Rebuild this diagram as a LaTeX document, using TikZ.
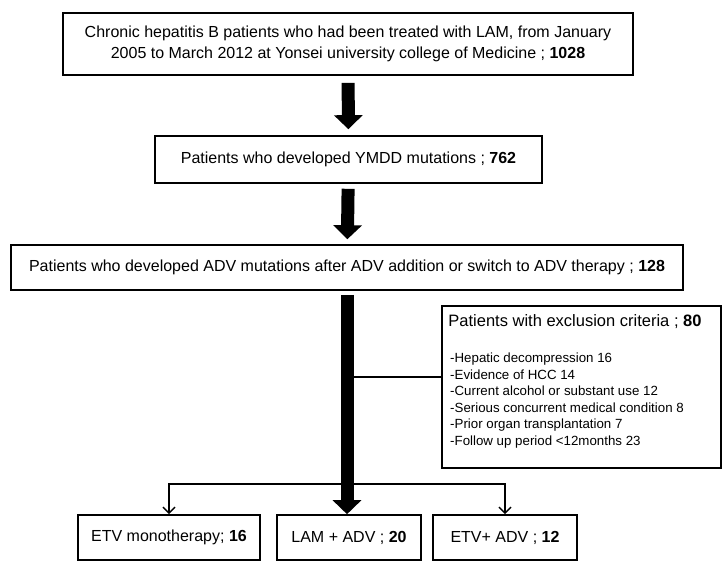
\documentclass[tikz,border=0pt]{standalone}
\usepackage{fontspec}
\setmainfont{Liberation Sans}
\usetikzlibrary{arrows.meta}
\usetikzlibrary{calc}

\begin{document}
\begin{tikzpicture}[x=1pt,y=-1pt,
        box/.style={draw,line width=1.6pt,inner sep=0pt,align=center,
            font=\fontsize{16}{21}\selectfont},
        fatarrow/.style={line width=13pt,-{Triangle[length=14pt,width=28pt]}},
        thinline/.style={line width=1.5pt},
        thinarrow/.style={thinline,-{Straight Barb[length=6pt,width=12pt]}}]
        \useasboundingbox (0,0) rectangle (725,567);
        % Main chain
        \node[box,minimum width=570pt,minimum height=62pt] (cohort) at (348,44)
            {Chronic hepatitis B patients who had been treated with LAM, from January\\
             2005 to March 2012 at Yonsei university college of Medicine ; \textbf{1028}};
        \node[box,minimum width=387pt,minimum height=47pt] (ymdd) at (348.5,159.5)
            {Patients who developed YMDD mutations ; \textbf{762}};
        \node[box,minimum width=672pt,minimum height=45pt] (advmut) at (347,267.5)
            {Patients who developed ADV mutations after ADV addition or switch to ADV therapy ; \textbf{128}};
        % Exclusion box
        \node[draw,line width=1.6pt,minimum width=279pt,minimum height=162pt] (exclude) at (581.5,387) {};
        \node[font=\fontsize{16.5}{19}\selectfont] (excltitle) at (575,322)
            {Patients with exclusion criteria ; \textbf{80}};
        \node[anchor=north west,inner sep=0pt,align=left,font=\fontsize{13.3}{16.5}\selectfont]
            (excllist) at (450,353)
            {-Hepatic decompression 16\\
             -Evidence of HCC 14\\
             -Current alcohol or substant use 12\\
             -Serious concurrent medical condition 8\\
             -Prior organ transplantation 7\\
             -Follow up period <12months 23};
        % Treatment groups
        \node[box,minimum width=182pt,minimum height=45pt] (etvmono) at (169,537.5)
            {ETV monotherapy; \textbf{16}};
        \node[box,minimum width=144pt,minimum height=45pt] (lamadv) at (349,537.5)
            {LAM + ADV ; \textbf{20}};
        \node[box,minimum width=144pt,minimum height=45pt] (etvadv) at (505,537.5)
            {ETV+ ADV ; \textbf{12}};
        % Connectors
        \coordinate (tap) at (347,377);
        \coordinate (split) at (347,484);
        \draw[thinline] (tap) -- (tap -| exclude.west);
        \draw[thinarrow] (split) -| (etvmono.north);
        \draw[thinarrow] (split) -| (etvadv.north);
        \draw[fatarrow,shorten <=7pt,shorten >=6pt] (cohort) -- (ymdd);
        \draw[fatarrow,shorten <=5pt,shorten >=5pt] (ymdd) -- (advmut);
        \draw[fatarrow,shorten <=4pt] (advmut.south) -- (advmut.south |- lamadv.north);
\end{tikzpicture}
\end{document}
